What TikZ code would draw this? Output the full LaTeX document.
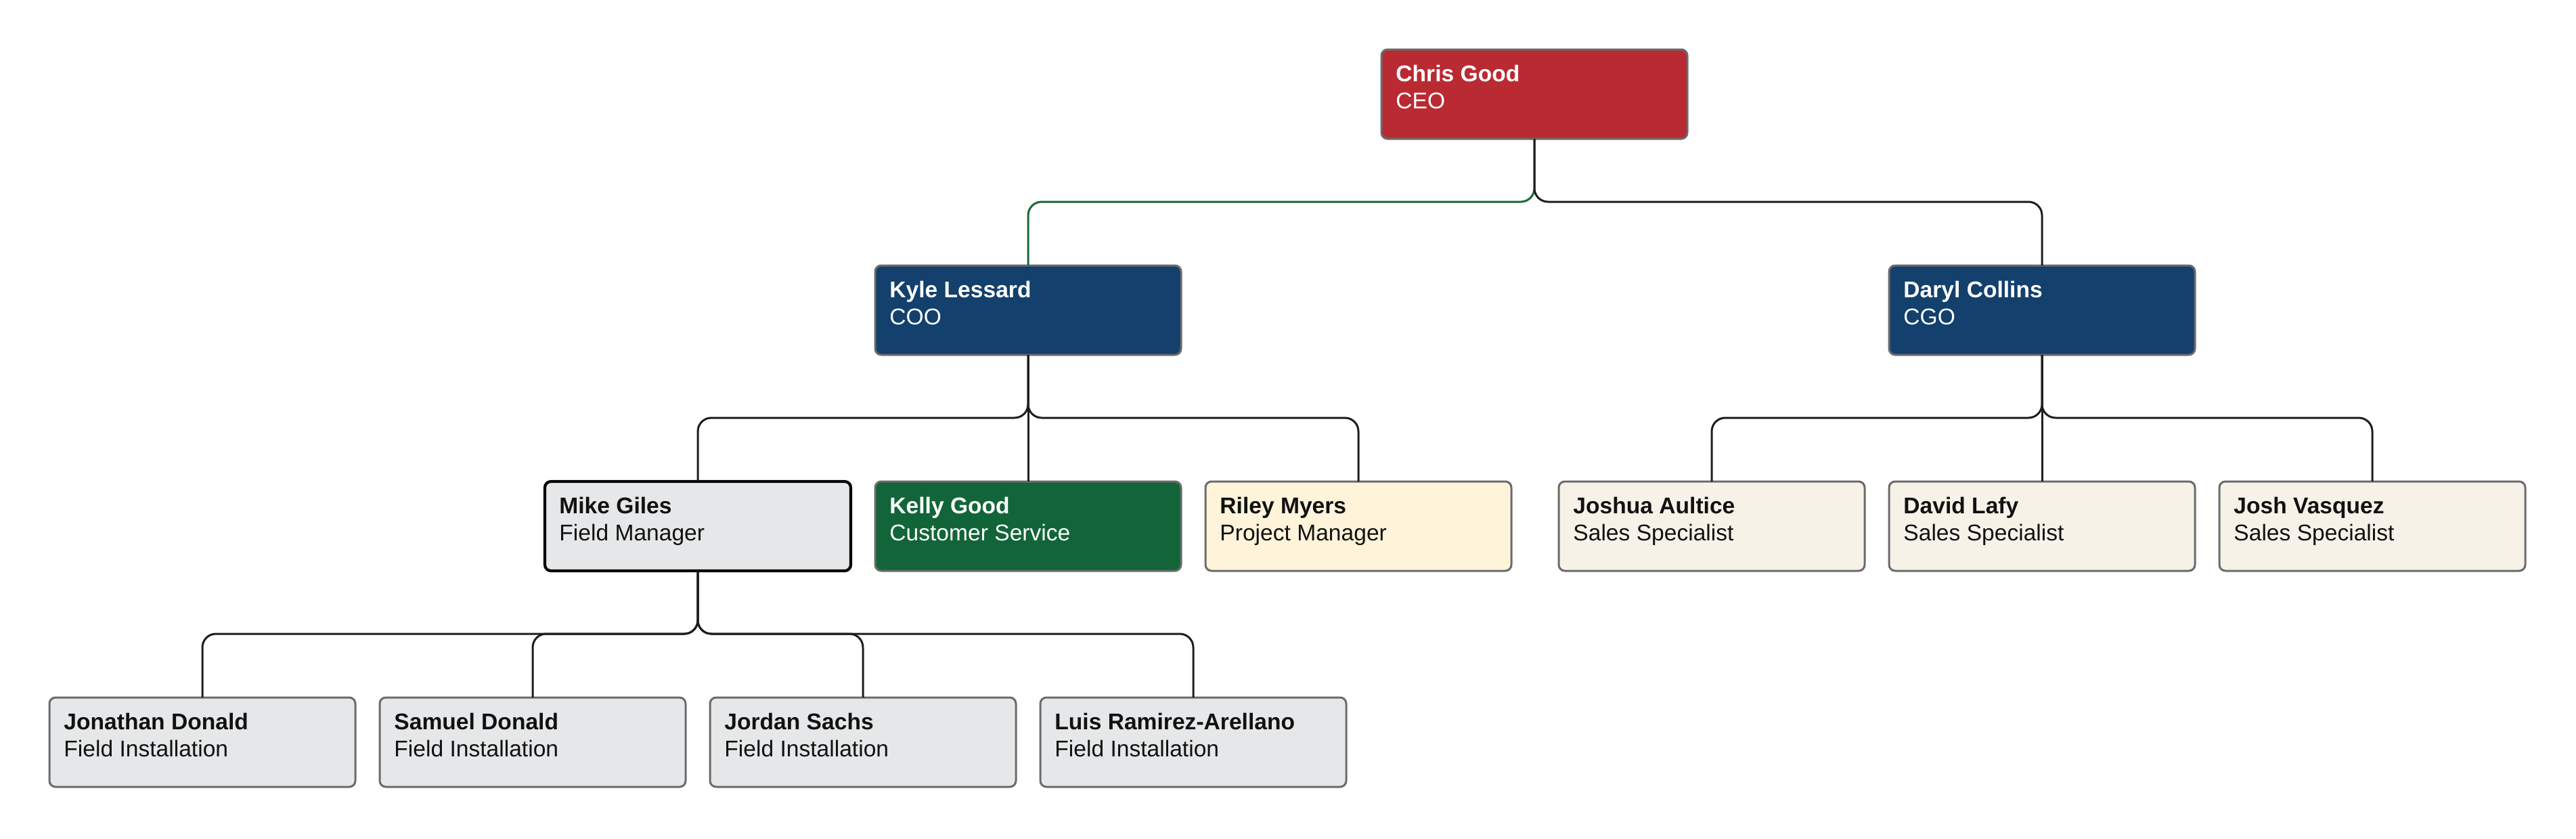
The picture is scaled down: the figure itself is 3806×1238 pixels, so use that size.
\documentclass[tikz,border=0pt]{standalone}
\usepackage{fontspec}
\setmainfont{Liberation Sans}
\definecolor{ceored}{RGB}{186,42,51}
\definecolor{navy}{RGB}{19,64,108}
\definecolor{kgreen}{RGB}{18,101,57}
\definecolor{cream}{RGB}{255,243,217}
\definecolor{sand}{RGB}{246,242,231}
\definecolor{lgray}{RGB}{230,231,232}
\definecolor{cardborder}{RGB}{107,107,107}
\definecolor{linkc}{RGB}{30,30,30}
\definecolor{glink}{RGB}{26,104,58}
\definecolor{darktext}{RGB}{17,17,17}
\tikzset{
  card/.style={draw=cardborder, line width=1.5pt, rounded corners=4.5pt,
    minimum width=226pt, minimum height=66pt, inner sep=0pt, outer sep=0pt,
    anchor=north west},
  redcard/.style={card, fill=ceored},
  bluecard/.style={card, fill=navy},
  greencard/.style={card, fill=kgreen},
  creamcard/.style={card, fill=cream},
  sandcard/.style={card, fill=sand},
  graycard/.style={card, fill=lgray},
  bosscard/.style={card, fill=lgray, draw=black, line width=2.1pt},
  nm/.style={anchor=base west, inner sep=0pt, font=\fontsize{16.8pt}{20pt}\selectfont\bfseries},
  rl/.style={anchor=base west, inner sep=0pt, font=\fontsize{16.8pt}{20pt}\selectfont},
  link/.style={draw=linkc, line width=1.5pt, rounded corners=10pt},
  greenlink/.style={link, draw=glink},
}
\newcommand\orgcard[7]{%
  \node[#4] (#1) at (#2,#3) {};
  \node[nm, text=#5] (#1-n) at ([shift={(21,47)}]#1.north west) {#6};
  \node[rl, text=#5] (#1-r) at ([shift={(21,87)}]#1.north west) {#7};
}
\begin{document}
\begin{tikzpicture}[x=0.5pt, y=-0.5pt]
\useasboundingbox (0,0) rectangle (3806,1238);
\coordinate (bus1) at (0,298);
\coordinate (bus2) at (0,617);
\coordinate (bus3) at (0,936);

\orgcard{ceo}{2041}{73}{redcard}{white}{Chris Good}{CEO}
\orgcard{kyle}{1293}{392}{bluecard}{white}{Kyle Lessard}{COO}
\orgcard{daryl}{2791}{392}{bluecard}{white}{Daryl Collins}{CGO}
\orgcard{mike}{805}{711}{bosscard}{darktext}{Mike Giles}{Field Manager}
\orgcard{kelly}{1293}{711}{greencard}{white}{Kelly Good}{Customer Service}
\orgcard{riley}{1781}{711}{creamcard}{darktext}{Riley Myers}{Project Manager}
\orgcard{joshua}{2303}{711}{sandcard}{darktext}{Joshua Aultice}{Sales Specialist}
\orgcard{david}{2791}{711}{sandcard}{darktext}{David Lafy}{Sales Specialist}
\orgcard{josh}{3279}{711}{sandcard}{darktext}{Josh Vasquez}{Sales Specialist}
\orgcard{jonathan}{73}{1030}{graycard}{darktext}{Jonathan Donald}{Field Installation}
\orgcard{samuel}{561}{1030}{graycard}{darktext}{Samuel Donald}{Field Installation}
\orgcard{jordan}{1049}{1030}{graycard}{darktext}{Jordan Sachs}{Field Installation}
\orgcard{luis}{1537}{1030}{graycard}{darktext}{Luis Ramirez-Arellano}{Field Installation}

% CEO level
\draw[greenlink] (ceo.south) -- (ceo.south |- bus1) -- (kyle.north |- bus1) -- (kyle.north);
\draw[link] (ceo.south) -- (ceo.south |- bus1) -- (daryl.north |- bus1) -- (daryl.north);
% Kyle level
\draw[link] (kyle.south) -- (kyle.south |- bus2) -- (mike.north |- bus2) -- (mike.north);
\draw[link] (kyle.south) -- (kelly.north);
\draw[link] (kyle.south) -- (kyle.south |- bus2) -- (riley.north |- bus2) -- (riley.north);
% Daryl level
\draw[link] (daryl.south) -- (daryl.south |- bus2) -- (joshua.north |- bus2) -- (joshua.north);
\draw[link] (daryl.south) -- (david.north);
\draw[link] (daryl.south) -- (daryl.south |- bus2) -- (josh.north |- bus2) -- (josh.north);
% Mike level
\draw[link] (mike.south) -- (mike.south |- bus3) -- (jonathan.north |- bus3) -- (jonathan.north);
\draw[link] (mike.south) -- (mike.south |- bus3) -- (samuel.north |- bus3) -- (samuel.north);
\draw[link] (mike.south) -- (mike.south |- bus3) -- (jordan.north |- bus3) -- (jordan.north);
\draw[link] (mike.south) -- (mike.south |- bus3) -- (luis.north |- bus3) -- (luis.north);
\end{tikzpicture}
\end{document}
